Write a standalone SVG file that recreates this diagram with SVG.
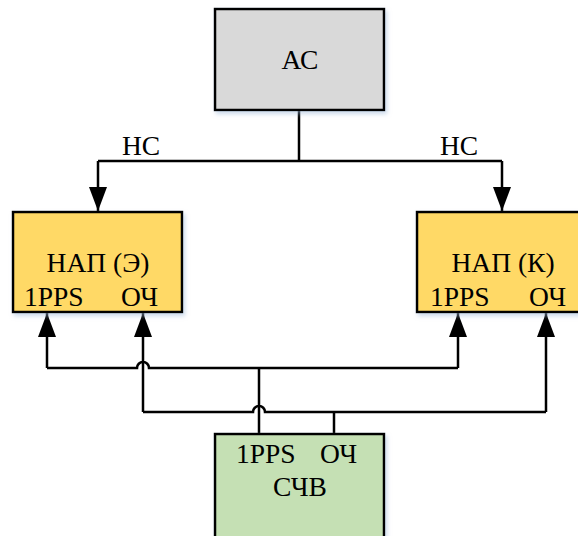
<svg xmlns="http://www.w3.org/2000/svg" width="578" height="536" viewBox="0 0 578 536">
<style>
.box{stroke:#000;stroke-width:2.5}
.t{font-family:"Liberation Serif","Times New Roman",serif;font-size:27.5px;fill:#000}
.c{text-anchor:middle}
.ln{fill:none;stroke:#000;stroke-width:2.5}
</style>
<defs>
<marker id="arr" viewBox="0 0 24 18" refX="24" refY="9" markerWidth="24" markerHeight="18" orient="auto" markerUnits="userSpaceOnUse">
<path d="M0,0 L24,9 L0,18 z" fill="#000"/>
</marker>
<filter id="sh" x="-10%" y="-10%" width="130%" height="130%">
<feDropShadow dx="2" dy="3" stdDeviation="2" flood-color="#9db8d9" flood-opacity="0.5"/>
</filter>
</defs>
<g id="connectors">
<path class="ln" d="M299,110 V161"/>
<path class="ln" d="M98,161 H502"/>
<path class="ln" d="M98,161 V211" marker-end="url(#arr)"/>
<path class="ln" d="M502,161 V211" marker-end="url(#arr)"/>
<path class="ln" d="M47,368 V313" marker-end="url(#arr)"/>
<path class="ln" d="M47,368 H137 A6,6 0 0 1 149,368 H458"/>
<path class="ln" d="M458,368 V313" marker-end="url(#arr)"/>
<path class="ln" d="M143,412 V313" marker-end="url(#arr)"/>
<path class="ln" d="M143,412 H253 A6,6 0 0 1 265,412 H546"/>
<path class="ln" d="M546,412 V313" marker-end="url(#arr)"/>
<path class="ln" d="M259,368 V434"/>
<path class="ln" d="M334,412 V434"/>
<text class="t" x="141" y="155" text-anchor="middle">НС</text>
<text class="t" x="459" y="155" text-anchor="middle">НС</text>
</g>
<g id="node-ac">
<rect class="box" x="215" y="9" width="169" height="101" fill="#d9d9d9" filter="url(#sh)"/>
<text class="t c" x="300" y="69">АС</text>
</g>
<g id="node-nap-e">
<rect class="box" x="13" y="212" width="169" height="100" fill="#ffd966" filter="url(#sh)"/>
<text class="t c" x="98" y="272">НАП (Э)</text>
<text class="t" x="24" y="306">1PPS</text>
<text class="t" x="121" y="306">ОЧ</text>
</g>
<g id="node-nap-k">
<rect class="box" x="417" y="212" width="175" height="100" fill="#ffd966" filter="url(#sh)"/>
<text class="t c" x="503" y="272">НАП (К)</text>
<text class="t" x="430" y="306">1PPS</text>
<text class="t" x="529" y="306">ОЧ</text>
</g>
<g id="node-schv">
<rect class="box" x="215" y="434" width="169" height="110" fill="#c5e0b4" filter="url(#sh)"/>
<text class="t" x="236" y="463">1PPS</text>
<text class="t" x="320" y="463">ОЧ</text>
<text class="t c" x="300" y="496">СЧВ</text>
</g>
</svg>
